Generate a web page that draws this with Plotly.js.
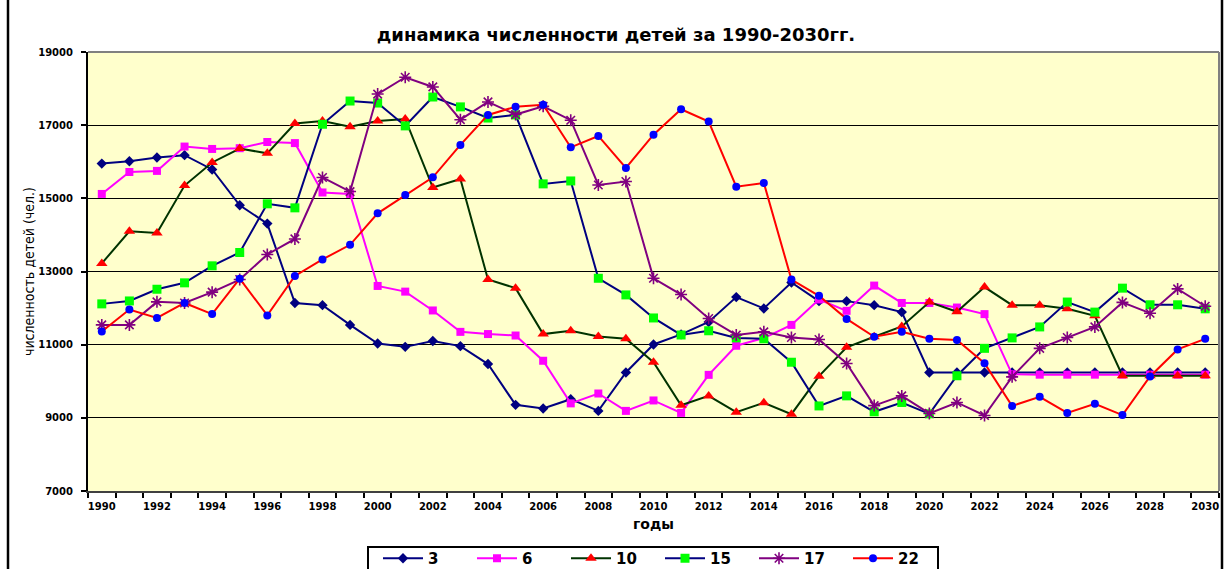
<!DOCTYPE html>
<html>
<head>
<meta charset="utf-8">
<script src="https://cdn.plot.ly/plotly-3.0.1.min.js"></script>
<style>
  html, body { margin: 0; padding: 0; background: #ffffff; overflow: hidden; }
  #wrap { width: 1224px; height: 569px; overflow: hidden; position: relative; }
  #chart { width: 1224px; height: 590px; }
</style>
</head>
<body>
<div id="wrap"><div id="chart"></div></div>
<script>
// Years (categories)
const years = [];
for (let y = 1990; y <= 2030; y++) years.push(y);

const seriesNames = ["3", "6", "10", "15", "17", "22"];

const s3 = [15950,16015,16115,16180,15790,14810,14310,12140,12080,11540,
            11030,10940,11100,10960,10470,9355,9255,9510,9190,10240,
            11005,11280,11620,12300,11990,12700,12190,12190,12080,11890,
            10240,10240,10240,10240,10240,10240,10240,10240,10240,10240,10240];
const s6 = [15120,15720,15750,16415,16350,16370,16540,16510,15160,15120,
            12605,12450,11935,11350,11290,11250,10560,9395,9665,9190,
            9475,9135,10175,10970,11180,11540,12235,11925,12615,12140,
            12140,12015,11835,10190,10180,10180,10180,10180,10180,10180,10180];
const s10 = [13220,14100,14055,15350,15980,16360,16230,17045,17115,16960,
             17115,17170,15295,15530,12780,12545,11290,11380,11225,11160,
             10520,9345,9600,9155,9410,9100,10140,10930,11215,11500,
             12165,11900,12575,12080,12080,11980,11790,10150,10150,10150,10150];
const s15 = [12115,12195,12515,12690,13155,13520,14850,14740,17025,17660,
             17605,16980,17770,17500,17195,17280,15395,15475,12815,12360,
             11730,11265,11380,11185,11160,10520,9325,9600,9165,9420,
             9110,10150,10900,11185,11485,12165,11890,12545,12090,12090,11980];
const s17 = [11540,11540,12170,12140,12435,12780,13465,13890,15570,15185,
             17850,18310,18045,17150,17635,17290,17515,17135,15365,15460,
             12815,12370,11715,11265,11350,11195,11140,10485,9335,9600,
             9120,9420,9065,10120,10900,11195,11485,12155,11860,12525,12050];
const s22 = [11360,11960,11730,12140,11835,12805,11800,12880,13330,13730,
             14590,15090,15575,16460,17280,17505,17560,16395,16705,15830,
             16740,17435,17100,15320,15420,12780,12335,11705,11215,11350,
             11160,11125,10495,9325,9575,9135,9385,9075,10130,10870,11160];

const seriesValues = [s3, s6, s10, s15, s17, s22];

const styles = [
  {line: {color: "#000080", width: 2}, marker: {symbol: "diamond", size: 8, color: "#000080"}},
  {line: {color: "#FF00FF", width: 2}, marker: {symbol: "square", size: 8, color: "#FF00FF"}},
  {line: {color: "#003300", width: 2}, marker: {symbol: "triangle-up", size: 10, color: "#FF0000"}},
  {line: {color: "#000080", width: 2}, marker: {symbol: "square", size: 9, color: "#00FF00", line: {color: "#00FF00", width: 0}}},
  {line: {color: "#800080", width: 2}, marker: {symbol: "asterisk-open", size: 10, color: "#800080", line: {color: "#800080", width: 1.6}}},
  {line: {color: "#FF0000", width: 2}, marker: {symbol: "circle", size: 8, color: "#0000FF"}}
];

const traces = seriesNames.map((name, i) => ({
  type: "scatter",
  mode: "lines+markers",
  name: name,
  x: years,
  y: seriesValues[i],
  line: styles[i].line,
  marker: styles[i].marker,
  hoverinfo: "x+y+name"
}));

const W = 1224, H = 590;
const plotLeft = 88, plotRight = 1219, plotTop = 52, plotBottom = 491;
const pw = plotRight - plotLeft, ph = plotBottom - plotTop;
const px = (p) => (p - plotLeft) / pw;
const py = (p) => (plotBottom - p) / ph;

const tickFont = {family: "DejaVu Sans, Arial, sans-serif", size: 10, color: "#000", weight: "bold"};

const layout = {
  width: W,
  height: H,
  paper_bgcolor: "#ffffff",
  plot_bgcolor: "#FFFFCC",
  margin: {l: plotLeft, r: W - plotRight, t: plotTop, b: H - plotBottom, pad: 0},
  title: {
    text: "динамика численности детей за 1990-2030гг.",
    font: {family: "DejaVu Sans, Arial, sans-serif", size: 18, color: "#000", weight: "bold"},
    xref: "container", x: 616 / W, xanchor: "center",
    yref: "container", y: 1 - 35 / H, yanchor: "middle"
  },
  xaxis: {
    range: [1989.5, 2030.5],
    tickmode: "linear", tick0: 1990, dtick: 2,
    tickformat: "d",
    ticks: "outside", ticklen: 5, tickcolor: "rgba(0,0,0,0)",
    ticklabelstandoff: 0,
    minor: {ticks: "outside", tick0: 1989.5, dtick: 1, ticklen: 5, tickwidth: 1.5, tickcolor: "#000", showgrid: false},
    tickfont: tickFont,
    showgrid: false, zeroline: false,
    showline: true, linecolor: "#404040", linewidth: 2,
    title: {text: "годы", font: {family: "DejaVu Sans, Arial, sans-serif", size: 14, color: "#000", weight: "bold"}, standoff: 8}
  },
  yaxis: {
    range: [7000, 19000],
    tickmode: "linear", tick0: 7000, dtick: 2000,
    tickformat: "d",
    ticks: "outside", ticklen: 5, tickwidth: 1.5, tickcolor: "#000",
    ticklabelstandoff: 6,
    tickfont: tickFont,
    showgrid: true, gridcolor: "#000000", gridwidth: 1,
    zeroline: false,
    showline: true, linecolor: "#000000", linewidth: 2,
    title: {text: "численность детей (чел.)", font: {family: "Liberation Sans Narrow, DejaVu Sans Condensed, Arial Narrow, sans-serif", size: 14, color: "#000"}, standoff: 0}
  },
  showlegend: true,
  legend: {
    orientation: "h",
    x: px(378), xanchor: "left",
    y: py(542), yanchor: "top",
    bgcolor: "rgba(0,0,0,0)",
    borderwidth: 0,
    font: {family: "DejaVu Sans, Arial, sans-serif", size: 15, color: "#000", weight: "bold"},
    traceorder: "normal",
    itemwidth: 40,
    entrywidth: 39
  },
  shapes: [
    {type: "line", xref: "paper", yref: "paper", x0: 1, x1: 1, y0: 0, y1: 1, line: {color: "#808080", width: 2}},
    {type: "line", xref: "paper", yref: "paper", x0: 0, x1: 1, y0: 1, y1: 1, line: {color: "#808080", width: 2}},
    {type: "line", xref: "paper", yref: "paper", x0: px(8), x1: px(8), y0: py(H), y1: py(-5), line: {color: "#000000", width: 2.5}},
    {type: "line", xref: "paper", yref: "paper", x0: px(1222), x1: px(1222), y0: py(H), y1: py(-5), line: {color: "#000000", width: 2.5}},
    {type: "rect", xref: "paper", yref: "paper", x0: px(368), x1: px(938), y0: py(585), y1: py(547), fillcolor: "#ffffff", line: {color: "#000000", width: 2}, layer: "below"}
  ]
};

Plotly.newPlot("chart", traces, layout, {displayModeBar: false, responsive: false});
</script>
</body>
</html>
